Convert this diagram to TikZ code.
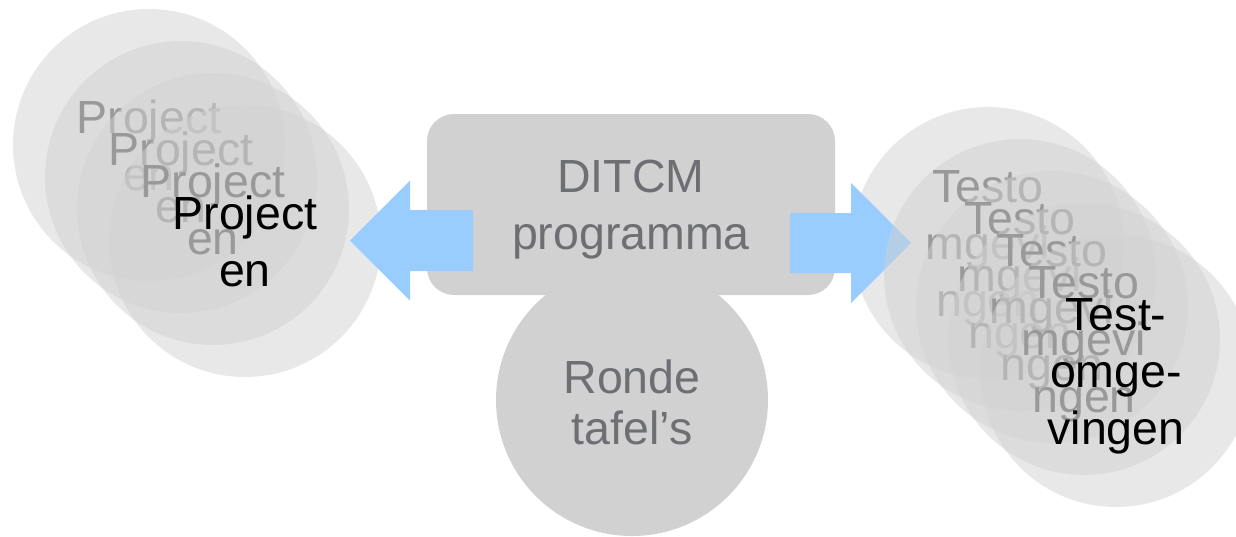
\documentclass[tikz,border=0pt]{standalone}
\usepackage{fontspec}
\setmainfont{Liberation Sans}
\newcommand\myfont{\fontsize{46.5}{57}\selectfont}
\definecolor{bubblegray}{HTML}{D1D1D1}
\definecolor{boxgray}{HTML}{D1D1D1}
\definecolor{labelgray}{HTML}{6E6F73}
\definecolor{ghosttext}{HTML}{626262}
\definecolor{arrowblue}{HTML}{99CCFF}
\begin{document}
\begin{tikzpicture}[x=1pt,y=-1pt,
  bubble/.style={circle, minimum size=272pt, inner sep=0pt, fill=bubblegray,
    fill opacity=0.5, text opacity=1, align=center, font=\myfont, text depth=0pt},
  ghost/.style={bubble, text=ghosttext},
  front/.style={bubble, text=black},
  centerbox/.style={fill=boxgray, text=labelgray, align=center, font=\myfont,
    inner sep=0pt, text depth=0pt},
  blockarrow/.style={fill=arrowblue}
]
\useasboundingbox (0,0) rectangle (1236,536);
\clip (0,0) rectangle (1236,536);

% left stack of circles
\node[ghost] (p1) at (149,145) {Project\\en};
\node[ghost] (p2) at (181,177) {Project\\en};
\node[ghost] (p3) at (213,209) {Project\\en};
\node[front] (p4) at (245,241) {Project\\en};

% centre
\node[centerbox, circle, minimum size=272pt] (ronde) at (632,400) {\raisebox{-4pt}{\shortstack{Ronde\\[14pt]tafel’s}}};
\node[centerbox, rectangle, rounded corners=27pt, minimum width=408pt, minimum height=181pt] (ditcm) at (631,204.5) {DITCM\\programma};

% left arrow
\fill[blockarrow] (350,240.5) -- (410,180.5) -- (410,210) -- (473,210) -- (473,271) -- (410,271) -- (410,300.5) -- cycle;

% right stack of circles
\node[ghost] (t1) at (988,243) {Testo\\mgevi\\ngen};
\fill[blockarrow] (911,243) -- (851,183) -- (851,213) -- (790,213) -- (790,273) -- (851,273) -- (851,303) -- cycle;
\node[ghost] (t2) at (1020,275) {Testo\\mgevi\\ngen};
\node[ghost] (t3) at (1052,307) {Testo\\mgevi\\ngen};
\node[ghost] (t4) at (1084,339) {Testo\\mgevi\\ngen};
\node[front] (t5) at (1116,371) {Test-\\omge-\\vingen};
\end{tikzpicture}
\end{document}
